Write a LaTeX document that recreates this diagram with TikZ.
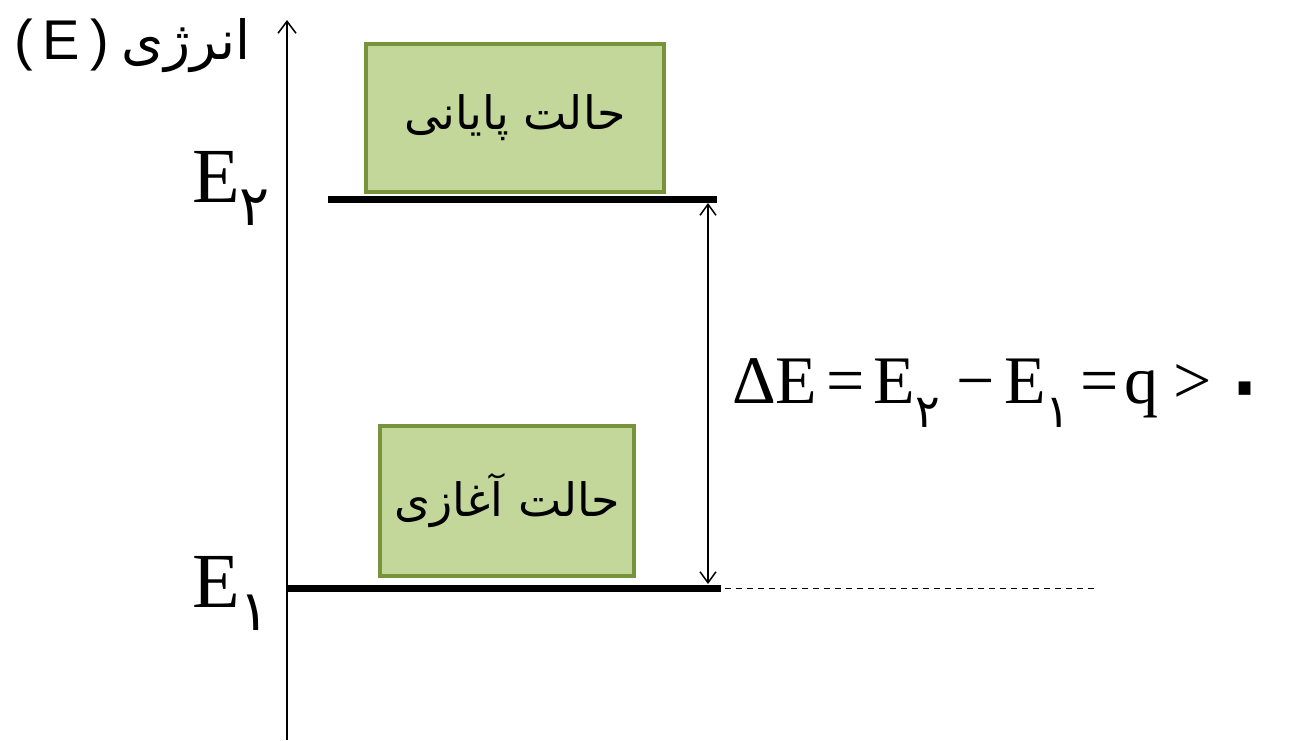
\documentclass[tikz,border=0pt]{standalone}
\usepackage{fontspec}
\setmainfont{Liberation Serif}
\newfontfamily\arabicfont[Script=Arabic]{DejaVu Sans}
\newfontfamily\labsans{Liberation Sans}
\TeXXeTstate=1
\usetikzlibrary{arrows.meta}
\definecolor{boxfill}{RGB}{196,215,155}
\definecolor{boxedge}{RGB}{119,147,60}
\tikzset{
  statebox/.style={draw=boxedge, fill=boxfill, line width=4pt, inner sep=0pt, anchor=north west},
  level/.style={line width=7pt},
  tip/.style={-{Straight Barb[length=12pt,width=18pt,line width=1.5pt]}},
  dtip/.style={{Straight Barb[length=11pt,width=16pt,line width=1.5pt]}-{Straight Barb[length=11pt,width=16pt,line width=1.5pt]}},
  persian/.style={font=\arabicfont\fontsize{46}{48}\selectfont},
}
\newcommand{\psub}[1]{\raisebox{-0.3em}{\arabicfont\fontsize{56}{56}\selectfont #1}}
\newcommand{\qsub}[1]{\raisebox{-0.36em}{\arabicfont\fontsize{46}{46}\selectfont #1}}
\begin{document}
\begin{tikzpicture}[x=1pt,y=-1pt]
\useasboundingbox (0,0) rectangle (1290,740);
% axis
\coordinate (axb) at (287,740);
\coordinate (axt) at (287,20);
\draw[line width=2pt, tip] (axb) -- (axt);
% axis label
\node[anchor=west, inner sep=0pt] (lab) at (14,46) {\labsans\fontsize{56}{60}\selectfont (\hspace{10pt}E\hspace{10pt})\hspace{13pt}{\arabicfont\fontsize{54}{58}\selectfont\beginR انرژی\endR}};
% levels
\coordinate (e2l) at (328,199);
\coordinate (e2r) at (717,199);
\coordinate (e1l) at (287,588);
\coordinate (e1r) at (721,588);
\coordinate (dashend) at (1098,588);
\draw[level] (e2l) -- (e2r);
\draw[level] (e1l) -- (e1r);
\draw[line width=1pt, dashed, dash pattern=on 6pt off 5pt] (e1r) ++(4,0) coordinate (dashstart) -- (dashend);
% boxes
\node[statebox, minimum width=298pt, minimum height=148pt] (fin) at (364,42) {};
\node[persian] (fint) at (fin.center) {\beginR حالت  پایانی\endR};
\node[statebox, minimum width=254pt, minimum height=150pt] (ini) at (378,424) {};
\node[persian] (init) at (ini.center) {\beginR حالت آغازی\endR};
% delta arrow
\coordinate (da) at (708,203);
\coordinate (db) at (708,584);
\draw[line width=1.5pt, dtip] (da) -- (db);
% level labels
\node[anchor=base west, inner sep=0pt] (E2) at (192,202) {\fontsize{78}{80}\selectfont E\psub{۲}};
\node[anchor=base west, inner sep=0pt] (E1) at (192,607) {\fontsize{78}{80}\selectfont E\psub{۱}};
% equation
\node[anchor=base west, inner sep=0pt] (eq) at (732,403) {\fontsize{68}{70}\selectfont ΔE\hspace{9pt}=\hspace{9pt}E\qsub{۲}\hspace{16pt}−\hspace{10pt}E\qsub{۱}\hspace{10pt}=\hspace{6pt}q\hspace{14pt}>\hspace{4pt}\raisebox{-16pt}{\arabicfont\fontsize{110}{110}\selectfont ۰}};
\end{tikzpicture}
\end{document}
